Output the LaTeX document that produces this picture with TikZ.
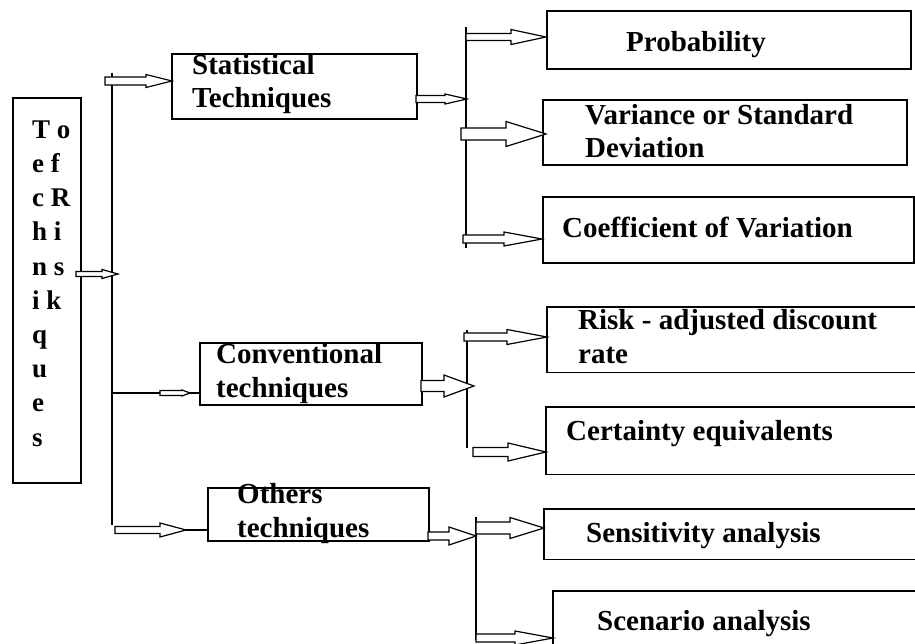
\documentclass[tikz,border=0pt]{standalone}
\usepackage{fontspec}
\setmainfont{Liberation Serif}
\usetikzlibrary{calc}
\tikzset{
  box/.style={draw, line width=1.6pt, inner sep=0pt, anchor=north west},
  openbox/.style={inner sep=0pt, anchor=north west},
  lbl/.style={anchor=base west, inner sep=0pt, align=left, font=\bfseries\fontsize{29}{33.5}\selectfont},
  trunk/.style={line width=1.5pt},
  blk/.style n args={3}{line width=1.2pt, fill=white, to path={let \p1=(\tikztostart), \p2=(\tikztotarget) in
     (\x1,\y1+#1) -- (\x2-#3,\y1+#1) -- (\x2-#3,\y1+#2) -- (\x2,\y1) -- (\x2-#3,\y1-#2) -- (\x2-#3,\y1-#1) -- (\x1,\y1-#1) -- cycle}}
}
\begin{document}
\begin{tikzpicture}[x=1pt,y=-1pt]
\useasboundingbox (0,0) rectangle (915,644);
% boxes
\node[box, minimum width=68pt, minimum height=385pt] (tech) at (12,97) {};
\node[box, minimum width=245pt, minimum height=65pt] (stat) at (171,53) {};
\node[box, minimum width=222pt, minimum height=62pt] (conv) at (199,342) {};
\node[box, minimum width=221pt, minimum height=53pt] (oth) at (207,487) {};
\node[box, minimum width=364pt, minimum height=58pt] (prob) at (546,10) {};
\node[box, minimum width=364pt, minimum height=65pt] (var) at (542,99) {};
\node[box, minimum width=371pt, minimum height=66pt] (coef) at (542,196) {};
\node[openbox, minimum width=380pt, minimum height=65pt] (risk) at (547,307) {};
\node[openbox, minimum width=380pt, minimum height=67pt] (cert) at (546,407) {};
\node[openbox, minimum width=380pt, minimum height=50pt] (sens) at (544,509) {};
\node[openbox, minimum width=380pt, minimum height=70pt] (scen) at (553,591) {};
\foreach \b in {risk,cert,sens,scen}
  \draw[line width=1.6pt] (\b.north east) -- (\b.north west) -- (\b.south west) -- (\b.south east);
% labels (base anchor = baseline of the last line)
\node[lbl, font=\bfseries\fontsize{27}{34.2}\selectfont] (techT) at (32,446) {T o\\e f\\c R\\h i\\n s\\i k\\q\\u\\e\\s};
\node[lbl] (statT) at (192,108) {Statistical\\Techniques};
\node[lbl] (convT) at (216,397) {Conventional\\techniques};
\node[lbl] (othT) at (237,537) {Others\\techniques};
\node[lbl] (probT) at (626,52) {Probability};
\node[lbl] (varT) at (585,158) {Variance or Standard\\Deviation};
\node[lbl] (coefT) at (562,238) {Coefficient of Variation};
\node[lbl] (riskT) at (578,363) {Risk - adjusted discount\\rate};
\node[lbl] (certT) at (566,440) {Certainty equivalents};
\node[lbl] (sensT) at (586,542) {Sensitivity analysis};
\node[lbl] (scenT) at (597,630) {Scenario analysis};
% trunks
\coordinate (t1top) at (112,73);   \coordinate (t1bot) at (112,525);
\coordinate (t2top) at (466,27);   \coordinate (t2bot) at (466,248);
\coordinate (t3top) at (467,330);  \coordinate (t3bot) at (467,448);
\coordinate (t4top) at (476,517);  \coordinate (t4bot) at (476,640);
\draw[trunk] (t1top) -- (t1bot);
\draw[trunk] (t2top) -- (t2bot);
\draw[trunk] (t3top) -- (t3bot);
\draw[trunk] (t4top) -- (t4bot);
% arrow end points
\coordinate (a1s) at (76,274);  \coordinate (a1e) at (118,274);
\coordinate (a2s) at (105,81);  \coordinate (a2e) at (172,81);
\coordinate (a3s) at (416,99);  \coordinate (a3e) at (467,99);
\coordinate (a4s) at (466,37);  \coordinate (a4e) at (546,37);
\coordinate (a5s) at (461,134); \coordinate (a5e) at (546,134);
\coordinate (a6s) at (463,239); \coordinate (a6e) at (542,239);
\coordinate (c1) at (112,393); \coordinate (c2) at (160,393); \coordinate (c3) at (190,393); \coordinate (c4) at (199,393);
\coordinate (a8s) at (421,386); \coordinate (a8e) at (474,386);
\coordinate (a9s) at (464,337); \coordinate (a9e) at (547,337);
\coordinate (a10s) at (473,452); \coordinate (a10e) at (546,452);
\coordinate (a11s) at (115,530); \coordinate (a11e) at (186,530); \coordinate (a11f) at (207,530);
\coordinate (a12s) at (428,536); \coordinate (a12e) at (476,536);
\coordinate (a13s) at (476,528); \coordinate (a13e) at (544,528);
\coordinate (a14s) at (476,638); \coordinate (a14e) at (553,638);
% arrows
\draw[blk={2.5pt}{4.5pt}{16pt}] (a1s) to (a1e);
\draw[blk={4pt}{6.5pt}{26pt}] (a2s) to (a2e);
\draw[blk={3.5pt}{5pt}{22pt}] (a3s) to (a3e);
\draw[blk={3.5pt}{7.5pt}{35pt}] (a4s) to (a4e);
\draw[blk={6pt}{12.5pt}{40pt}] (a5s) to (a5e);
\draw[blk={4pt}{7pt}{38pt}] (a6s) to (a6e);
\draw[line width=2pt] (c1) -- (c2);
\draw[blk={2.5pt}{3pt}{8pt}] (c2) to (c3);
\draw[line width=1.2pt] (c3) -- (c4);
\draw[blk={5.5pt}{11pt}{30pt}] (a8s) to (a8e);
\draw[blk={4pt}{7.5pt}{40pt}] (a9s) to (a9e);
\draw[blk={4.5pt}{9pt}{38pt}] (a10s) to (a10e);
\draw[blk={3.5pt}{7pt}{26pt}] (a11s) to (a11e);
\draw[line width=1.2pt] (a11e) -- (a11f);
\draw[blk={4pt}{9pt}{27pt}] (a12s) to (a12e);
\draw[blk={6pt}{10.5pt}{34pt}] (a13s) to (a13e);
\draw[blk={4pt}{7pt}{38pt}] (a14s) to (a14e);
\end{tikzpicture}
\end{document}
